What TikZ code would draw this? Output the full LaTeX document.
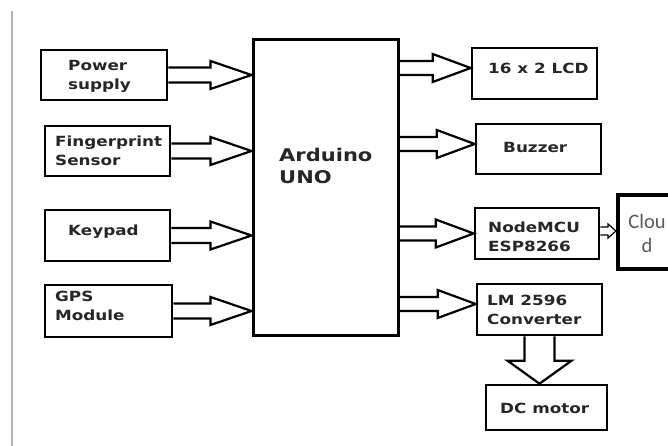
\documentclass[tikz,border=0pt]{standalone}
\usepackage{fontspec}
\newfontfamily\lblfont{DejaVu Sans}[FakeStretch=1.2]
\newfontfamily\cloudfont{Carlito}
\usetikzlibrary{calc}
\tikzset{
  box/.style={draw=black, line width=2.6pt, inner sep=0pt},
  lbl/.style={font=\lblfont\bfseries\fontsize{14}{19}\selectfont, text=black!85, anchor=west, align=left, inner sep=0pt},
  biglbl/.style={font=\lblfont\bfseries\fontsize{17.5}{22}\selectfont, text=black!85, anchor=west, align=left, inner sep=0pt},
  blk/.style={draw=black, line width=2.2pt, line join=miter},
}
\newcommand\harrow[6][]{\draw[blk,#1] let \p1=(#2), \p2=(#3) in
  (\x1,\y2+#4) -- (\x2-#6,\y2+#4) -- (\x2-#6,\y2+#5) -- (\x2,\y2) --
  (\x2-#6,\y2-#5) -- (\x2-#6,\y2-#4) -- (\x1,\y2-#4);}
\begin{document}
\begin{tikzpicture}[x=1pt,y=-1pt]
\useasboundingbox (0,0) rectangle (668,446);
\clip (0,0) rectangle (668,446);
\fill[white] (0,0) rectangle (668,446);
\draw[black!30, line width=2pt] (12,11) -- (12,446);

% left boxes
\node[box, minimum width=126pt, minimum height=50pt] (ps) at (104,75) {};
\node[box, minimum width=125pt, minimum height=50pt] (fp) at (107.5,151) {};
\node[box, minimum width=125pt, minimum height=51pt] (kp) at (107.5,235.5) {};
\node[box, minimum width=127pt, minimum height=52pt] (gps) at (108.5,311) {};
% arduino
\node[box, line width=3pt, minimum width=145pt, minimum height=295pt] (ard) at (325.5,187.5) {};
% right boxes
\node[box, minimum width=125pt, minimum height=51pt] (lcd) at (534.5,73.5) {};
\node[box, minimum width=125pt, minimum height=50pt] (buz) at (538.5,149) {};
\node[box, minimum width=124pt, minimum height=51pt] (nmcu) at (537,233.5) {};
\node[box, line width=4pt, minimum width=60pt, minimum height=74pt] (cloud) at (648,232) {};
\node[box, minimum width=125pt, minimum height=51pt] (lm) at (539.5,309.5) {};
\node[box, minimum width=121pt, minimum height=45pt] (dc) at (546.5,407.5) {};

% labels
\node[lbl] (pst) at (68,76) {Power\\supply};
\node[lbl] (fpt) at (55,151) {Fingerprint\\Sensor};
\node[lbl] (kpt) at (68,232) {Keypad};
\node[lbl] (gpst) at (55,306) {GPS\\Module};
\node[biglbl] (ardt) at (279,166) {Arduino\\UNO};
\node[lbl] (lcdt) at (488,68) {16 x 2 LCD};
\node[lbl] (buzt) at (503,147) {Buzzer};
\node[lbl] (nmcut) at (488,237) {NodeMCU\\ESP8266};
\node[lbl] (lmt) at (487,310) {LM 2596\\Converter};
\node[lbl] (dct) at (500,408) {DC motor};
\node[font=\cloudfont\fontsize{20.5}{24}\selectfont, text=black!65, align=center, inner sep=0pt] (cloudt) at (647,233) {Clou\\d};

% input arrows
\harrow{ps.east}{ard.west |- ps.east}{7.5pt}{14pt}{41pt}
\harrow{fp.east}{ard.west |- fp.east}{7.5pt}{14pt}{41pt}
\harrow{kp.east}{ard.west |- kp.east}{7.5pt}{14pt}{41pt}
\harrow{gps.east}{ard.west |- gps.east}{7.5pt}{14pt}{41pt}

% output arrows
\coordinate (tlcd) at ($(lcd.west)+(0,-5.5)$);
\coordinate (tbuz) at ($(buz.west)+(0,-5)$);
\coordinate (tnmcu) at (nmcu.west);
\coordinate (tlm) at ($(lm.west)+(0,-5.5)$);
\harrow{ard.east |- tlcd}{tlcd}{7pt}{14pt}{38pt}
\harrow{ard.east |- tbuz}{tbuz}{7pt}{14pt}{38pt}
\harrow{ard.east |- tnmcu}{tnmcu}{7pt}{14pt}{38pt}
\harrow{ard.east |- tlm}{tlm}{7pt}{14pt}{38pt}

% NodeMCU -> Cloud
\coordinate (tcl) at (cloud.west |- 0,231);
\harrow[line width=1.2pt]{nmcu.east |- tcl}{tcl}{4pt}{7pt}{8pt}

% LM -> DC motor
\draw[blk] let \p1=(lm.south), \p2=(lm.south |- dc.north) in
  (\x1-15pt,\y1) -- (\x1-15pt,\y2+23pt) -- (\x1-32pt,\y2+23pt) -- (\x2,\y2) --
  (\x1+32pt,\y2+23pt) -- (\x1+15pt,\y2+23pt) -- (\x1+15pt,\y1);
\end{tikzpicture}
\end{document}
